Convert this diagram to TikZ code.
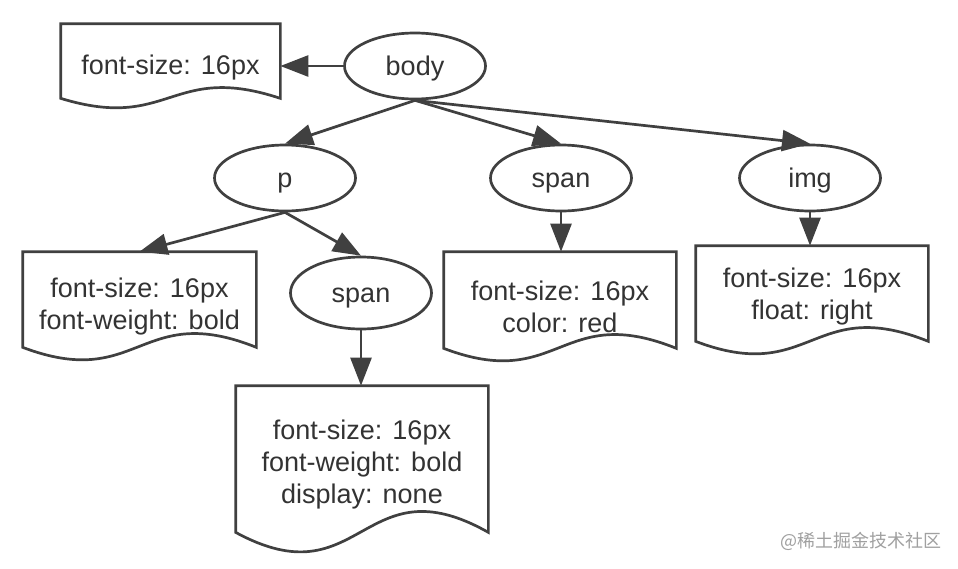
\documentclass[tikz,border=0pt]{standalone}
\usepackage{fontspec}
\setmainfont{Liberation Sans}
\newfontfamily\cjk{Noto Sans CJK SC}
\usetikzlibrary{arrows.meta,shapes.geometric}
\definecolor{ln}{HTML}{404040}
\definecolor{tx}{HTML}{333333}
\definecolor{wm}{HTML}{A0A0A0}
\tikzset{
  ell/.style={draw=ln, line width=2.7pt, ellipse, inner sep=0pt, text=tx,
    minimum width=141pt, minimum height=66pt, text height=19pt, text depth=0pt,
    font=\fontsize{27}{32}\selectfont},
  docframe/.style={rectangle, inner sep=0pt, outer sep=1.35pt},
  docline/.style={draw=ln, line width=2.7pt, line join=miter},
  doctext/.style={align=center, text=tx, inner sep=0pt, font=\fontsize{27}{32}\selectfont},
  arr/.style={draw=ln, line width=2.7pt, -{Triangle[length=28pt,width=21pt]}},
}
\newcommand\docbox[6]{%
  \node[docframe, minimum width={(#4-#2)*1pt}, minimum height={(#5-#3)*1pt}] (#1) at ({(#2+#4)/2},{(#3+#5)/2}) {};
  \draw[docline] (#1.south west) -- (#1.north west) -- (#1.north east) -- (#1.south east)
    .. controls ({#4-0.5*(#4-#2)},{#5-3.5*#6}) and ({#2+0.5*(#4-#2)},{#5+3.5*#6}) .. (#1.south west) -- cycle;
}
\begin{document}
\begin{tikzpicture}[x=1pt,y=-1pt]
\fill[white] (0,0) rectangle (958,568);
\useasboundingbox (0,0) rectangle (958,568);

% ellipses
\node[ell] (body) at (415,66) {body};
\node[ell] (p) at (285,178) {p};
\node[ell] (span1) at (561,178) {span};
\node[ell] (img) at (810,178) {img};
\node[ell, minimum height=72pt] (span2) at (361,293) {span};

% document boxes
\docbox{d0}{62}{25}{279}{97}{10}
\node[doctext] (d0t) at (170.5,68) {font-size: 16px};

\docbox{dp}{24}{253}{255}{346}{13}
\node[doctext] (dpt) at (139.5,307) {font-size: 16px\\font-weight: bold};

\docbox{ds}{445}{253}{675}{347}{13}
\node[doctext] (dst) at (560,307) {font-size: 16px\\color: red};

\docbox{di}{697}{247}{927}{340}{13}
\node[doctext] (dit) at (812,297) {font-size: 16px\\float: right};

\docbox{db}{237}{387}{487}{531}{20}
\node[doctext] (dbt) at (362,465) {font-size: 16px\\font-weight: bold\\display: none};

% connectors
\draw[arr] (body.west) -- (body.west -| d0.east);
\draw[arr] (body.south) -- (p.north);
\draw[arr] (body.south) -- (span1.north);
\draw[arr] (body.south) -- (img.north);
\draw[arr] (p.south) -- (dp.north);
\draw[arr] (p.south) -- (span2.north);
\draw[arr] (span2.south) -- (span2.south |- db.north);
\draw[arr] (span1.south) -- (span1.south |- ds.north);
\draw[arr] (img.south) -- (img.south |- di.north);

% watermark
\node[anchor=west, text=wm, inner sep=0pt, font=\cjk\fontsize{18}{20}\selectfont] (wmk) at (780,541) {@稀土掘金技术社区};
\end{tikzpicture}
\end{document}
